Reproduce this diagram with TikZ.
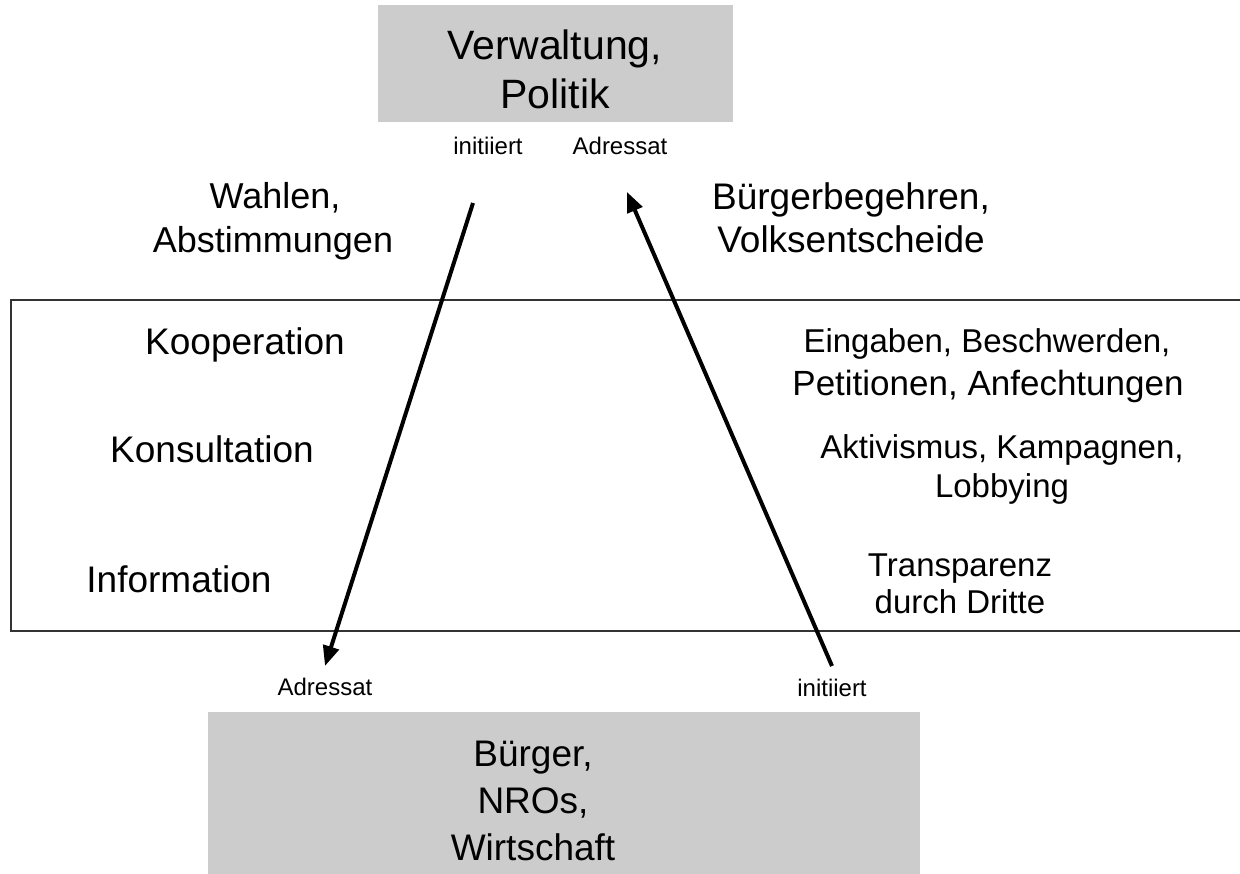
\documentclass[tikz,border=0pt]{standalone}
\usepackage{fontspec}
\setmainfont{Liberation Sans}
\usetikzlibrary{arrows.meta}
\definecolor{boxgray}{HTML}{CCCCCC}
\tikzset{
  lbl/.style={anchor=base, inner sep=0pt, font=\fontsize{#1}{#1}\selectfont},
  flow/.style={line width=4pt, -{Triangle[length=20pt,width=16pt]}},
  frame/.style={line width=1.5pt, draw=black!80},
}
\begin{document}
\begin{tikzpicture}[x=1pt,y=-1pt]
\useasboundingbox (0,0) rectangle (1240,874);
\clip (0,0) rectangle (1240,874);
% boxes
\fill[boxgray] (378,5) rectangle (733,122);
\fill[boxgray] (208,712) rectangle (920,880);
\draw[frame] (1250,300) -- (11,300) -- (11,631) -- (1250,631);
% top box text
\node[lbl=41] (verw) at (555,60) {Verwaltung,};
\node[lbl=41] (pol) at (555,109) {Politik};
\node[lbl=24] (initA) at (488,155) {initiiert};
\node[lbl=24] (adrA) at (620,155) {Adressat};
% upper side texts
\node[lbl=36] (wahl1) at (275,209) {Wahlen,};
\node[lbl=36] (wahl2) at (273,253) {Abstimmungen};
\node[lbl=37] (bb1) at (851,210) {Bürgerbegehren,};
\node[lbl=37] (bb2) at (851,253) {Volksentscheide};
% left levels
\node[lbl=37] (koop) at (245,355) {Kooperation};
\node[lbl=37] (kons) at (212,462) {Konsultation};
\node[lbl=37] (info) at (179,592) {Information};
% right side
\node[lbl=33] (ein1) at (987,353) {Eingaben, Beschwerden,};
\node[lbl=35] (ein2) at (988,396) {Petitionen, Anfechtungen};
\node[lbl=33] (akt1) at (1002,458) {Aktivismus, Kampagnen,};
\node[lbl=33] (akt2) at (1002,497) {Lobbying};
\node[lbl=33] (tra1) at (960,576) {Transparenz};
\node[lbl=33] (tra2) at (960,613) {durch Dritte};
% bottom labels
\node[lbl=24] (adrB) at (325,695) {Adressat};
\node[lbl=24] (initB) at (832,696) {initiiert};
% bottom box text
\node[lbl=37] (b1) at (533,766) {Bürger,};
\node[lbl=37] (b2) at (533,813) {NROs,};
\node[lbl=37] (b3) at (533,860) {Wirtschaft};
% arrows
\coordinate (a1s) at (473,203);
\coordinate (a1e) at (325,666);
\coordinate (a2s) at (832,666);
\coordinate (a2e) at (627,192);
\draw[flow] (a1s) -- (a1e);
\draw[flow] (a2s) -- (a2e);
\end{tikzpicture}
\end{document}
